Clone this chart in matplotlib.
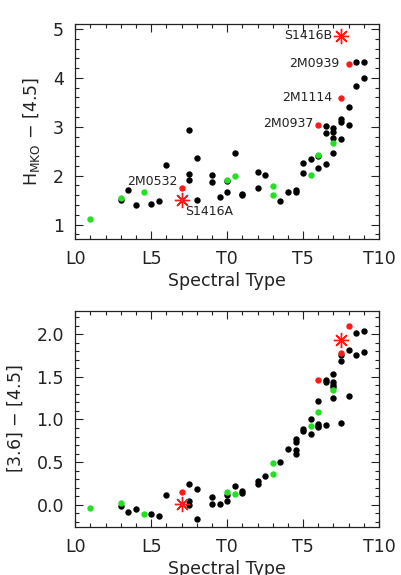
import numpy as np
import matplotlib
matplotlib.use('Agg')
import matplotlib.pyplot as plt
from matplotlib.ticker import MultipleLocator

# ==================== data ====================
# spectral type: L0 = 0, T0 = 10, T10 = 20
# --- top panel: H_MKO - [4.5] ---
top_black_x = [3.0, 3.5, 4.0, 5.0, 5.5, 6.0, 7.5, 7.5, 7.5, 8.0, 8.0, 9.0, 9.0, 9.5,
               10.0, 10.0, 10.5, 11.0, 11.0, 12.0, 12.0, 12.5, 13.5, 14.0, 14.5, 14.5,
               15.0, 15.0, 15.5, 16.0, 16.0, 16.5, 16.5, 16.5, 17.0, 17.0, 17.0, 17.0,
               17.5, 17.5, 17.5, 18.0, 18.0, 18.5, 18.5, 19.0, 19.0]
top_black_y = [1.51, 1.70, 1.40, 1.43, 1.49, 2.22, 2.94, 2.03, 1.91, 2.36, 1.51, 2.02, 1.88, 1.57,
               1.89, 1.66, 2.47, 1.63, 1.61, 2.08, 1.74, 2.01, 1.48, 1.66, 1.70, 1.66,
               2.25, 2.05, 2.34, 2.16, 2.40, 3.01, 2.88, 2.24, 2.97, 2.90, 2.77, 2.47,
               3.15, 3.10, 2.75, 3.41, 3.04, 3.83, 4.33, 4.33, 4.00]
top_green_x = [1.0, 3.0, 4.5, 10.0, 10.5, 13.0, 13.0, 15.5, 16.0, 17.0]
top_green_y = [1.11, 1.54, 1.66, 1.92, 1.99, 1.78, 1.61, 2.02, 2.42, 2.67]
top_red_x = [7.0, 16.0, 17.5, 18.0]
top_red_y = [1.74, 3.03, 3.59, 4.28]
top_star_x = [7.0, 17.5]
top_star_y = [1.51, 4.85]

# --- bottom panel: [3.6] - [4.5] ---
bot_black_x = [3.0, 3.5, 4.0, 5.0, 5.5, 6.0, 7.5, 7.5, 7.5, 8.0, 8.0, 9.0, 9.0, 9.5,
               10.0, 10.0, 10.5, 11.0, 11.0, 12.0, 12.0, 12.5, 13.5, 14.0, 14.5, 14.5,
               14.5, 14.5, 15.0, 15.0, 15.5, 15.5, 16.0, 16.0, 16.0, 16.0, 16.5, 16.5,
               16.5, 17.0, 17.0, 17.0, 17.0, 17.0, 17.5, 17.5, 17.5, 18.0, 18.0, 18.5,
               18.5, 19.0, 19.0]
bot_black_y = [-0.01, -0.09, -0.05, -0.11, -0.13, 0.11, 0.24, 0.05, 0.00, 0.18, -0.17, 0.09, 0.01, 0.01,
               0.05, 0.12, 0.22, 0.16, 0.14, 0.28, 0.24, 0.34, 0.50, 0.65, 0.77, 0.74,
               0.64, 0.60, 0.89, 0.87, 1.00, 0.83, 1.22, 0.95, 0.92, 0.91, 1.46, 1.44,
               0.93, 1.53, 1.44, 1.40, 1.38, 1.25, 1.76, 1.68, 0.96, 1.81, 1.27, 2.01,
               1.75, 2.04, 1.79]
bot_green_x = [1.0, 3.0, 4.5, 10.0, 10.5, 13.0, 13.0, 15.5, 16.0, 17.0]
bot_green_y = [-0.04, 0.02, -0.11, 0.15, 0.13, 0.49, 0.36, 0.92, 1.09, 1.34]
bot_red_x = [7.0, 16.0, 17.5, 18.0]
bot_red_y = [0.15, 1.46, 1.78, 2.10]
bot_star_x = [7.0, 17.5]
bot_star_y = [0.01, 1.93]

# object labels (top panel only)
label_names = ['2M0532', 'S1416A', '2M0937', '2M1114', '2M0939', 'S1416B']
label_x = [5.1, 7.25, 15.7, 16.95, 17.4, 16.95]
label_y = [1.88, 1.27, 3.06, 3.60, 4.29, 4.87]
label_ha = ['center', 'left', 'right', 'right', 'right', 'right']

tick_pos = [0, 5, 10, 15, 20]
tick_lab = ['L0', 'L5', 'T0', 'T5', 'T10']

RED = '#ff1a1a'
GREEN = '#22e022'
TXT = '#222222'

plt.rcParams['font.family'] = ['DejaVu Sans']


def style_axes(ax, ylim, ymajor, yminor, yfmt=None):
    ax.set_xlim(0, 20)
    ax.set_ylim(*ylim)
    ax.set_xticks(tick_pos)
    ax.set_xticklabels(tick_lab)
    ax.xaxis.set_minor_locator(MultipleLocator(1))
    ax.yaxis.set_major_locator(MultipleLocator(ymajor))
    ax.yaxis.set_minor_locator(MultipleLocator(yminor))
    if yfmt:
        ax.yaxis.set_major_formatter(plt.FormatStrFormatter(yfmt))
    ax.tick_params(which='both', direction='in', top=True, right=True,
                   colors=TXT, labelsize=12.5, width=0.8)
    ax.tick_params(which='major', length=6, pad=8)
    ax.tick_params(which='minor', length=3)
    for s in ax.spines.values():
        s.set_linewidth(0.9)
        s.set_color(TXT)
    ax.set_xlabel('Spectral Type', fontsize=12.5, color=TXT, labelpad=3)


def draw_points(ax, bx, by, gx, gy, rx, ry, sx, sy):
    ax.plot(bx, by, 'o', color='black', ms=4.6, mec='none')
    ax.plot(gx, gy, 'o', color=GREEN, ms=4.6, mec='none')
    ax.plot(rx, ry, 'o', color=RED, ms=4.6, mec='none')
    ax.plot(sx, sy, marker=(8, 2, 0), ls='none', color=RED, ms=11, mew=1.0)


fig = plt.figure(figsize=(4.02, 5.75), dpi=100)
ax1 = fig.add_axes([0.187, 0.584, 0.756, 0.374])
ax2 = fig.add_axes([0.187, 0.0835, 0.756, 0.3755])

draw_points(ax1, top_black_x, top_black_y, top_green_x, top_green_y,
            top_red_x, top_red_y, top_star_x, top_star_y)
style_axes(ax1, (0.7, 5.1), 1, 0.2)
ax1.set_ylabel(r'H$_{\rm MKO}$ $-$ [4.5]', fontsize=12.5, color=TXT, labelpad=8)
for name, x, y, ha in zip(label_names, label_x, label_y, label_ha):
    ax1.text(x, y, name, fontsize=9, color=TXT, ha=ha, va='center')

draw_points(ax2, bot_black_x, bot_black_y, bot_green_x, bot_green_y,
            bot_red_x, bot_red_y, bot_star_x, bot_star_y)
style_axes(ax2, (-0.26, 2.27), 0.5, 0.1, '%.1f')
ax2.set_ylabel(r'[3.6] $-$ [4.5]', fontsize=12.5, color=TXT, labelpad=8)

fig.savefig('out.png', dpi=100)
